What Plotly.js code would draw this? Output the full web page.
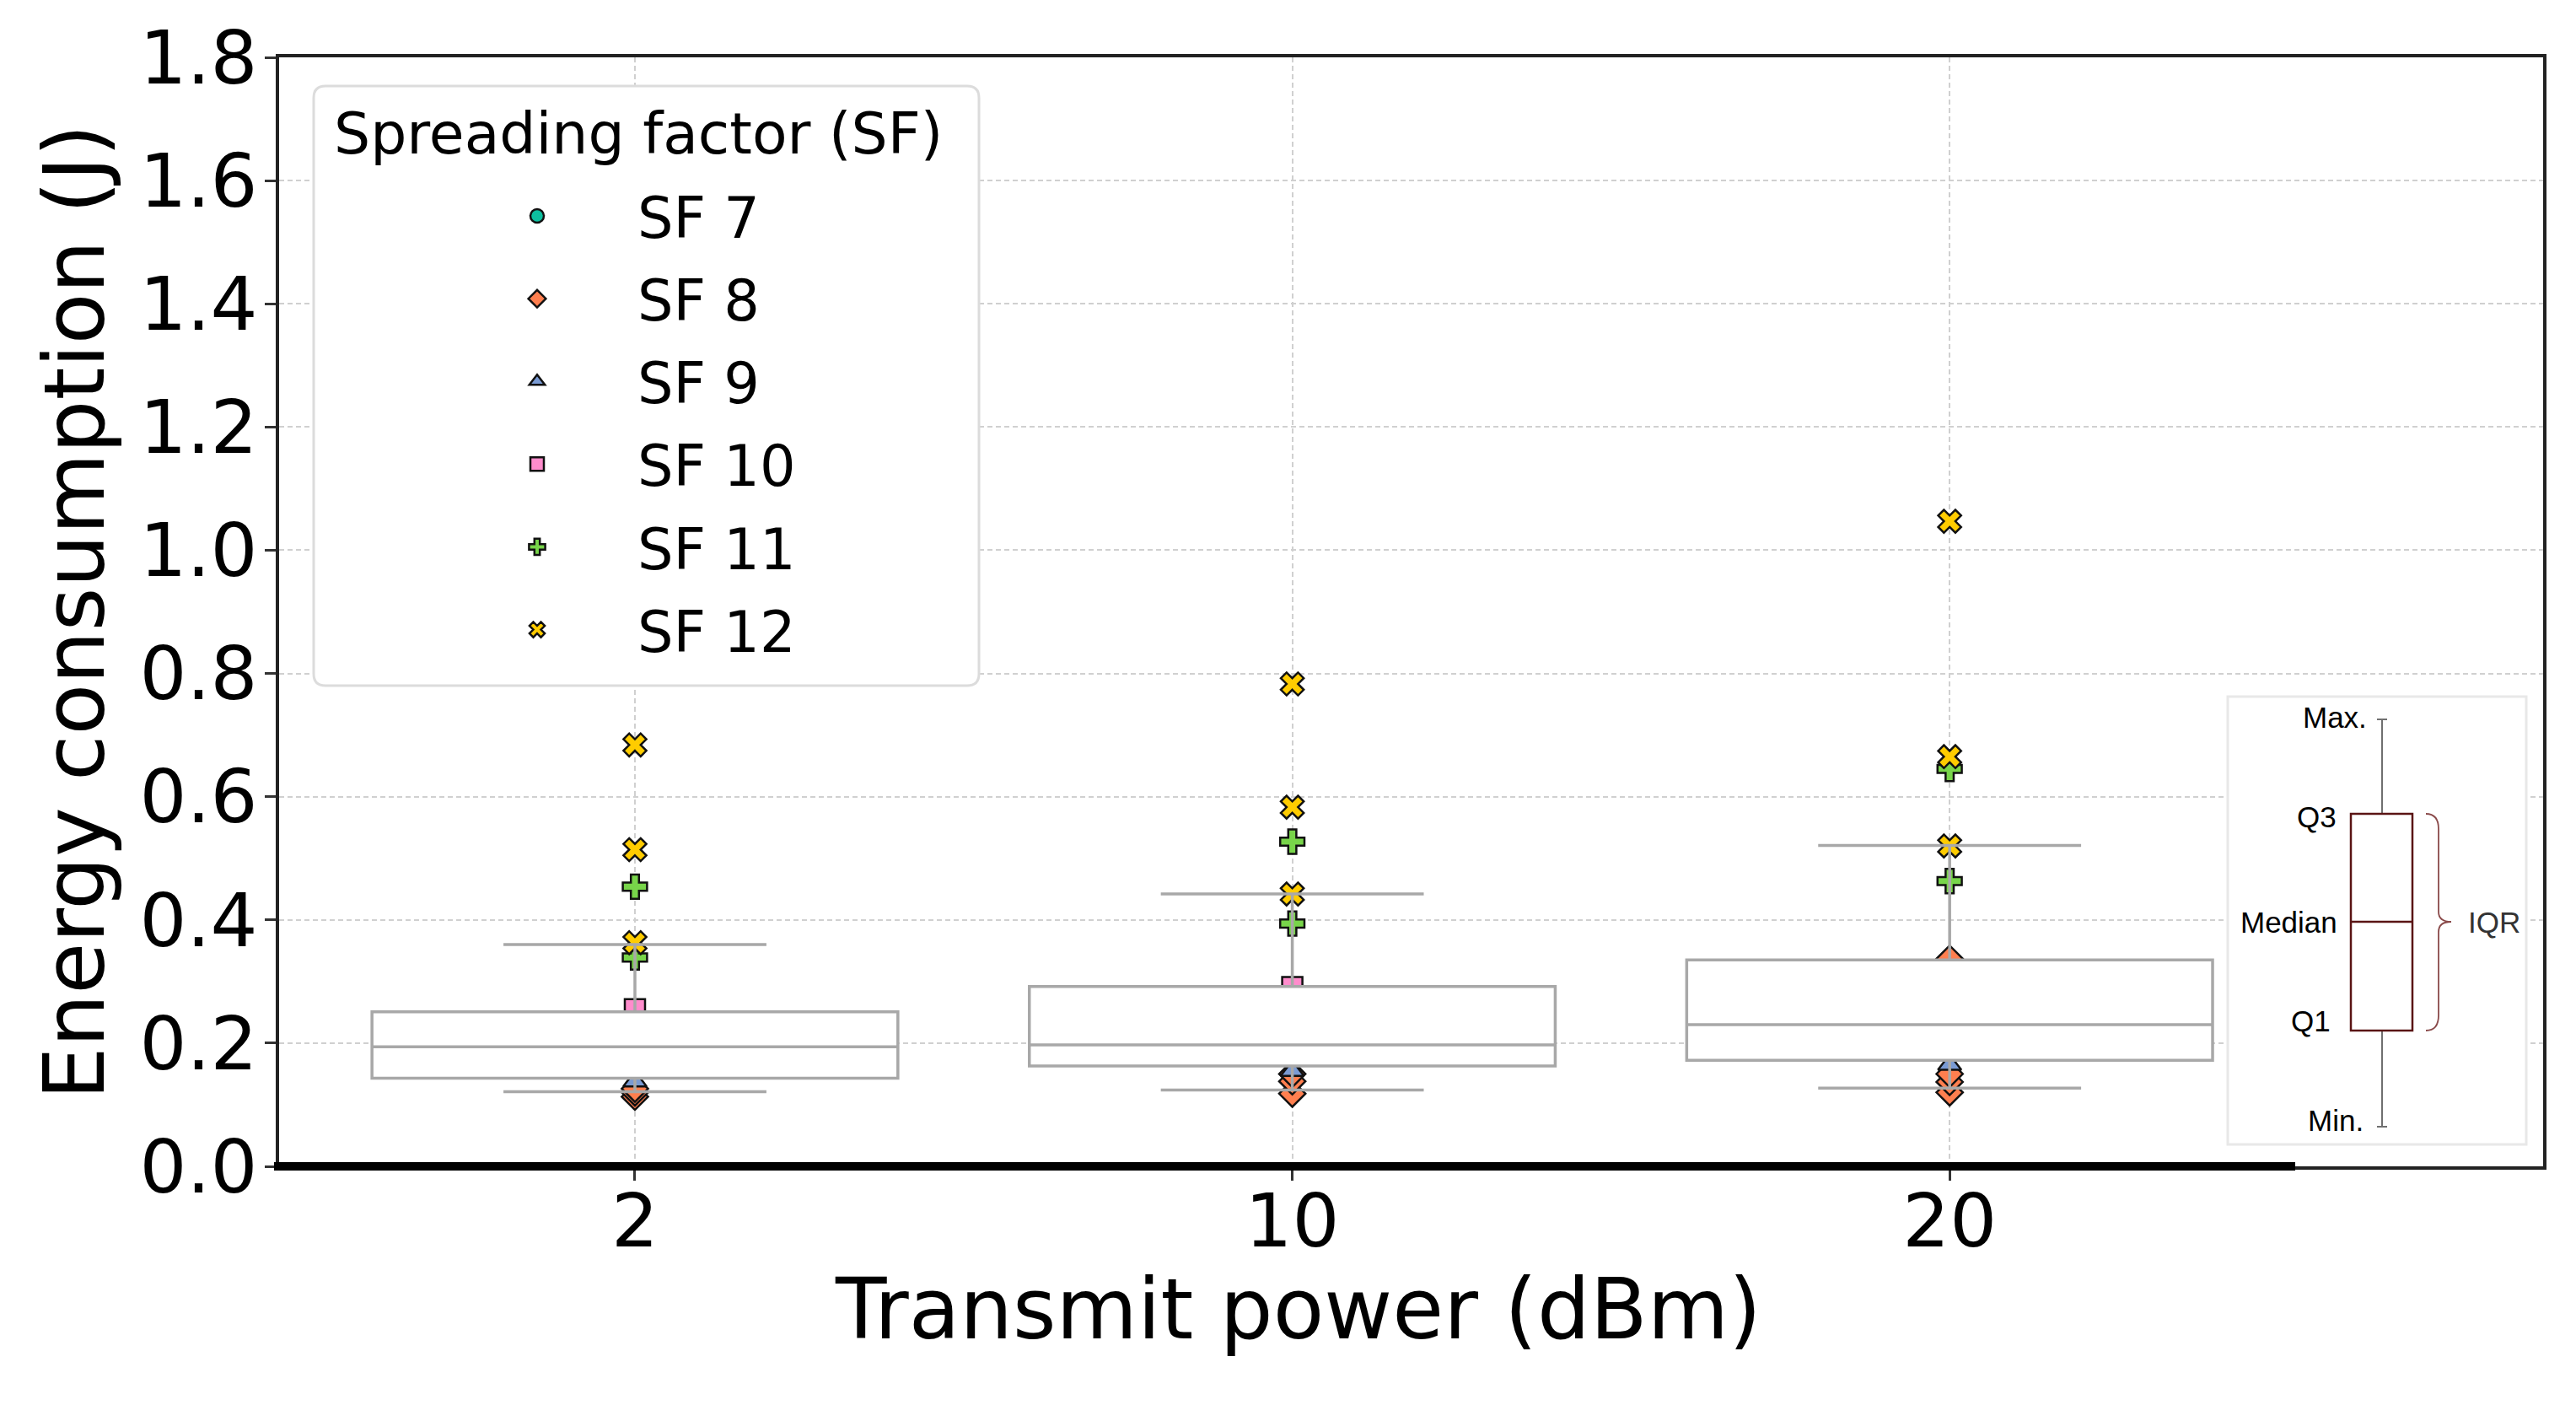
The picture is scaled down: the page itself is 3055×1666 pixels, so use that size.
<!DOCTYPE html>
<html>
<head>
<meta charset="utf-8">
<script src="https://cdn.plot.ly/plotly-3.0.1.min.js"></script>
<style>html,body{margin:0;padding:0;background:#fff;}#chart{width:3055px;height:1666px;}</style>
</head>
<body>
<div id="chart"></div>
<script>
// ---- data ----
const powers = ['2', '10', '20'];
const boxQ1 = [0.143, 0.163, 0.172];
const boxMedian = [0.194, 0.197, 0.230];
const boxQ3 = [0.251, 0.292, 0.335];
const boxLower = [0.121, 0.124, 0.127];
const boxUpper = [0.360, 0.442, 0.521];

const sfNames = ['SF 7', 'SF 8', 'SF 9', 'SF 10', 'SF 11', 'SF 12'];
const sfSymbols = ['circle', 'diamond', 'triangle-up', 'square', 'cross', 'x'];
const sfColors = ['#0dbf9f', '#ff7f4f', '#7a9bd4', '#ff8ccc', '#78d54a', '#ffcc00'];

// points per spreading factor: [power, energy]
const sf7Power = ['2', '2', '10', '10', '20', '20'];
const sf7Energy = [0.160, 0.190, 0.180, 0.200, 0.190, 0.230];
const sf8Power = ['2', '2', '2', '10', '10', '10', '20', '20', '20', '20'];
const sf8Energy = [0.113, 0.120, 0.126, 0.118, 0.138, 0.150, 0.120, 0.137, 0.150, 0.337];
const sf9Power = ['2', '2', '10', '10', '20', '20'];
const sf9Energy = [0.138, 0.200, 0.155, 0.220, 0.165, 0.250];
const sf10Power = ['2', '10', '20'];
const sf10Energy = [0.255, 0.291, 0.300];
const sf11Power = ['2', '2', '10', '10', '20', '20'];
const sf11Energy = [0.339, 0.454, 0.394, 0.527, 0.463, 0.645];
const sf12Power = ['2', '2', '2', '10', '10', '10', '20', '20', '20'];
const sf12Energy = [0.363, 0.514, 0.684, 0.442, 0.583, 0.783, 0.520, 0.665, 1.047];

const sfPowers = [sf7Power, sf8Power, sf9Power, sf10Power, sf11Power, sf12Power];
const sfEnergies = [sf7Energy, sf8Energy, sf9Energy, sf10Energy, sf11Energy, sf12Energy];

const yTicks = [0, 0.2, 0.4, 0.6, 0.8, 1.0, 1.2, 1.4, 1.6, 1.8];

// ---- layout geometry (pixels of the 3055x1666 canvas) ----
const W = 3055, H = 1666;
const L = 331, R = 39, T = 68, B = 283;
const PW = W - L - R, PH = H - T - B;
const px = X => (X - L) / PW;
const py = Y => (H - B - Y) / PH;

const font = 'DejaVu Sans, sans-serif';
const arial = 'Liberation Sans, Arial, sans-serif';

const traces = [];
for (let i = 0; i < sfNames.length; i++) {
  traces.push({
    type: 'scatter', mode: 'markers',
    x: sfPowers[i], y: sfEnergies[i],
    name: sfNames[i], legendgroup: 'g' + i,
    xaxis: 'x', yaxis: 'y',
    marker: {symbol: sfSymbols[i], size: 24, color: sfColors[i],
             line: {color: '#111111', width: 2.5}},
    hoverinfo: 'x+y+name'
  });
}
traces.push({
  type: 'box', x: powers, q1: boxQ1, median: boxMedian, q3: boxQ3,
  lowerfence: boxLower, upperfence: boxUpper,
  xaxis: 'x2', yaxis: 'y2',
  width: 0.8, whiskerwidth: 0.5, boxpoints: false,
  fillcolor: '#ffffff', line: {color: '#a8a8a8', width: 3.5},
  showlegend: false, hoverinfo: 'y'
});

const axisCommon = {
  showline: true, mirror: true, linecolor: '#222222', linewidth: 4,
  ticks: 'outside', ticklen: 13, tickwidth: 3, tickcolor: '#333333',
  showgrid: true, gridcolor: '#d0d0d0', gridwidth: 2, griddash: '6px,4px',
  zeroline: false,
  tickfont: {family: font, size: 88, color: '#000000'}
};

// brace path
const bx0 = 2877, bx1 = 2892, bx2 = 2907, by0 = 965, bym = 1093, by1 = 1222;
const bracePath = 'M' + px(bx0) + ',' + py(by0) +
  ' Q' + px(bx1) + ',' + py(by0) + ' ' + px(bx1) + ',' + py(by0 + 18) +
  ' L' + px(bx1) + ',' + py(bym - 12) +
  ' Q' + px(bx1) + ',' + py(bym) + ' ' + px(bx2) + ',' + py(bym) +
  ' Q' + px(bx1) + ',' + py(bym) + ' ' + px(bx1) + ',' + py(bym + 12) +
  ' L' + px(bx1) + ',' + py(by1 - 18) +
  ' Q' + px(bx1) + ',' + py(by1) + ' ' + px(bx0) + ',' + py(by1);

// rounded legend frame path
function roundRect(X0, Y0, X1, Y1, r) {
  return 'M' + px(X0 + r) + ',' + py(Y0) +
    ' L' + px(X1 - r) + ',' + py(Y0) +
    ' Q' + px(X1) + ',' + py(Y0) + ' ' + px(X1) + ',' + py(Y0 + r) +
    ' L' + px(X1) + ',' + py(Y1 - r) +
    ' Q' + px(X1) + ',' + py(Y1) + ' ' + px(X1 - r) + ',' + py(Y1) +
    ' L' + px(X0 + r) + ',' + py(Y1) +
    ' Q' + px(X0) + ',' + py(Y1) + ' ' + px(X0) + ',' + py(Y1 - r) +
    ' L' + px(X0) + ',' + py(Y0 + r) +
    ' Q' + px(X0) + ',' + py(Y0) + ' ' + px(X0 + r) + ',' + py(Y0) + ' Z';
}

const layout = {
  width: W, height: H,
  margin: {l: L, r: R, t: T, b: B, pad: 0},
  paper_bgcolor: '#ffffff', plot_bgcolor: '#ffffff',
  showlegend: true,
  xaxis: Object.assign({}, axisCommon, {
    type: 'category', categoryorder: 'array', categoryarray: powers,
    range: [-0.5413, 2.9028], ticklabelstandoff: -28
  }),
  yaxis: Object.assign({}, axisCommon, {
    range: [0, 1.8], tickvals: yTicks, tickformat: '.1f', ticklabelstandoff: -9
  }),
  xaxis2: {type: 'category', categoryorder: 'array', categoryarray: powers,
           range: [-0.5413, 2.9028], overlaying: 'x', visible: false},
  yaxis2: {range: [0, 1.8], overlaying: 'y', visible: false},
  legend: {
    x: px(367), y: py(206), xanchor: 'left', yanchor: 'top',
    bgcolor: 'rgba(0,0,0,0)', borderwidth: 0,
    font: {family: font, size: 67, color: '#000000'},
    traceorder: 'grouped', tracegroupgap: 8,
    itemwidth: 228, indentation: 151
  },
  annotations: [
    {text: 'Spreading factor (SF)', xref: 'paper', yref: 'paper', x: px(394), y: py(158),
     xanchor: 'left', yanchor: 'middle', showarrow: false,
     font: {family: font, size: 68, color: '#000000'}},
    {text: 'Transmit power (dBm)', xref: 'paper', yref: 'paper', x: px(1539), y: py(1552),
     xanchor: 'center', yanchor: 'middle', showarrow: false,
     font: {family: font, size: 99, color: '#000000'}},
    {text: 'Energy consumption (J)', xref: 'paper', yref: 'paper', x: px(88), y: py(726),
     xanchor: 'center', yanchor: 'middle', textangle: -90, showarrow: false,
     font: {family: font, size: 99, color: '#000000'}},
    {text: 'Max.', xref: 'paper', yref: 'paper', x: px(2809), y: py(850), xanchor: 'right', yanchor: 'middle', showarrow: false, font: {family: arial, size: 35, color: '#000'}},
    {text: 'Q3', xref: 'paper', yref: 'paper', x: px(2773), y: py(968), xanchor: 'right', yanchor: 'middle', showarrow: false, font: {family: arial, size: 35, color: '#000'}},
    {text: 'Median', xref: 'paper', yref: 'paper', x: px(2774), y: py(1093), xanchor: 'right', yanchor: 'middle', showarrow: false, font: {family: arial, size: 35, color: '#000'}},
    {text: 'Q1', xref: 'paper', yref: 'paper', x: px(2766), y: py(1210), xanchor: 'right', yanchor: 'middle', showarrow: false, font: {family: arial, size: 35, color: '#000'}},
    {text: 'Min.', xref: 'paper', yref: 'paper', x: px(2805), y: py(1328), xanchor: 'right', yanchor: 'middle', showarrow: false, font: {family: arial, size: 35, color: '#000'}},
    {text: 'IQR', xref: 'paper', yref: 'paper', x: px(2925), y: py(1093), xanchor: 'left', yanchor: 'middle', showarrow: false, font: {family: arial, size: 35, color: '#333'}}
  ],
  shapes: [
    // legend frame
    {type: 'path', xref: 'paper', yref: 'paper', path: roundRect(372, 102, 1161, 813, 14),
     fillcolor: '#ffffff', line: {color: '#dcdcdc', width: 3}, layer: 'above'},
    // thick part of the bottom axis line
    {type: 'line', xref: 'paper', yref: 'paper', x0: px(L - 6), x1: px(2722), y0: 0, y1: 0,
     line: {color: '#000000', width: 10}, layer: 'above'},
    // inset explaining the box
    {type: 'rect', xref: 'paper', yref: 'paper', x0: px(2642), x1: px(2996), y0: py(1357), y1: py(826),
     fillcolor: '#ffffff', line: {color: '#e8e8e8', width: 3}, layer: 'above'},
    {type: 'line', xref: 'paper', yref: 'paper', x0: px(2825), x1: px(2825), y0: py(853), y1: py(965),
     line: {color: '#707070', width: 2}, layer: 'above'},
    {type: 'line', xref: 'paper', yref: 'paper', x0: px(2825), x1: px(2825), y0: py(1222), y1: py(1336),
     line: {color: '#707070', width: 2}, layer: 'above'},
    {type: 'line', xref: 'paper', yref: 'paper', x0: px(2819), x1: px(2831), y0: py(853), y1: py(853),
     line: {color: '#707070', width: 2}, layer: 'above'},
    {type: 'line', xref: 'paper', yref: 'paper', x0: px(2819), x1: px(2831), y0: py(1336), y1: py(1336),
     line: {color: '#707070', width: 2}, layer: 'above'},
    {type: 'rect', xref: 'paper', yref: 'paper', x0: px(2788), x1: px(2861), y0: py(1222), y1: py(965),
     fillcolor: 'rgba(0,0,0,0)', line: {color: '#5a1414', width: 2.5}, layer: 'above'},
    {type: 'line', xref: 'paper', yref: 'paper', x0: px(2788), x1: px(2861), y0: py(1093), y1: py(1093),
     line: {color: '#5a1414', width: 2.5}, layer: 'above'},
    {type: 'path', xref: 'paper', yref: 'paper', path: bracePath,
     line: {color: '#8a4a4a', width: 1.8}, layer: 'above'}
  ]
};

Plotly.newPlot('chart', traces, layout, {displayModeBar: false, staticPlot: true});
</script>
</body>
</html>
